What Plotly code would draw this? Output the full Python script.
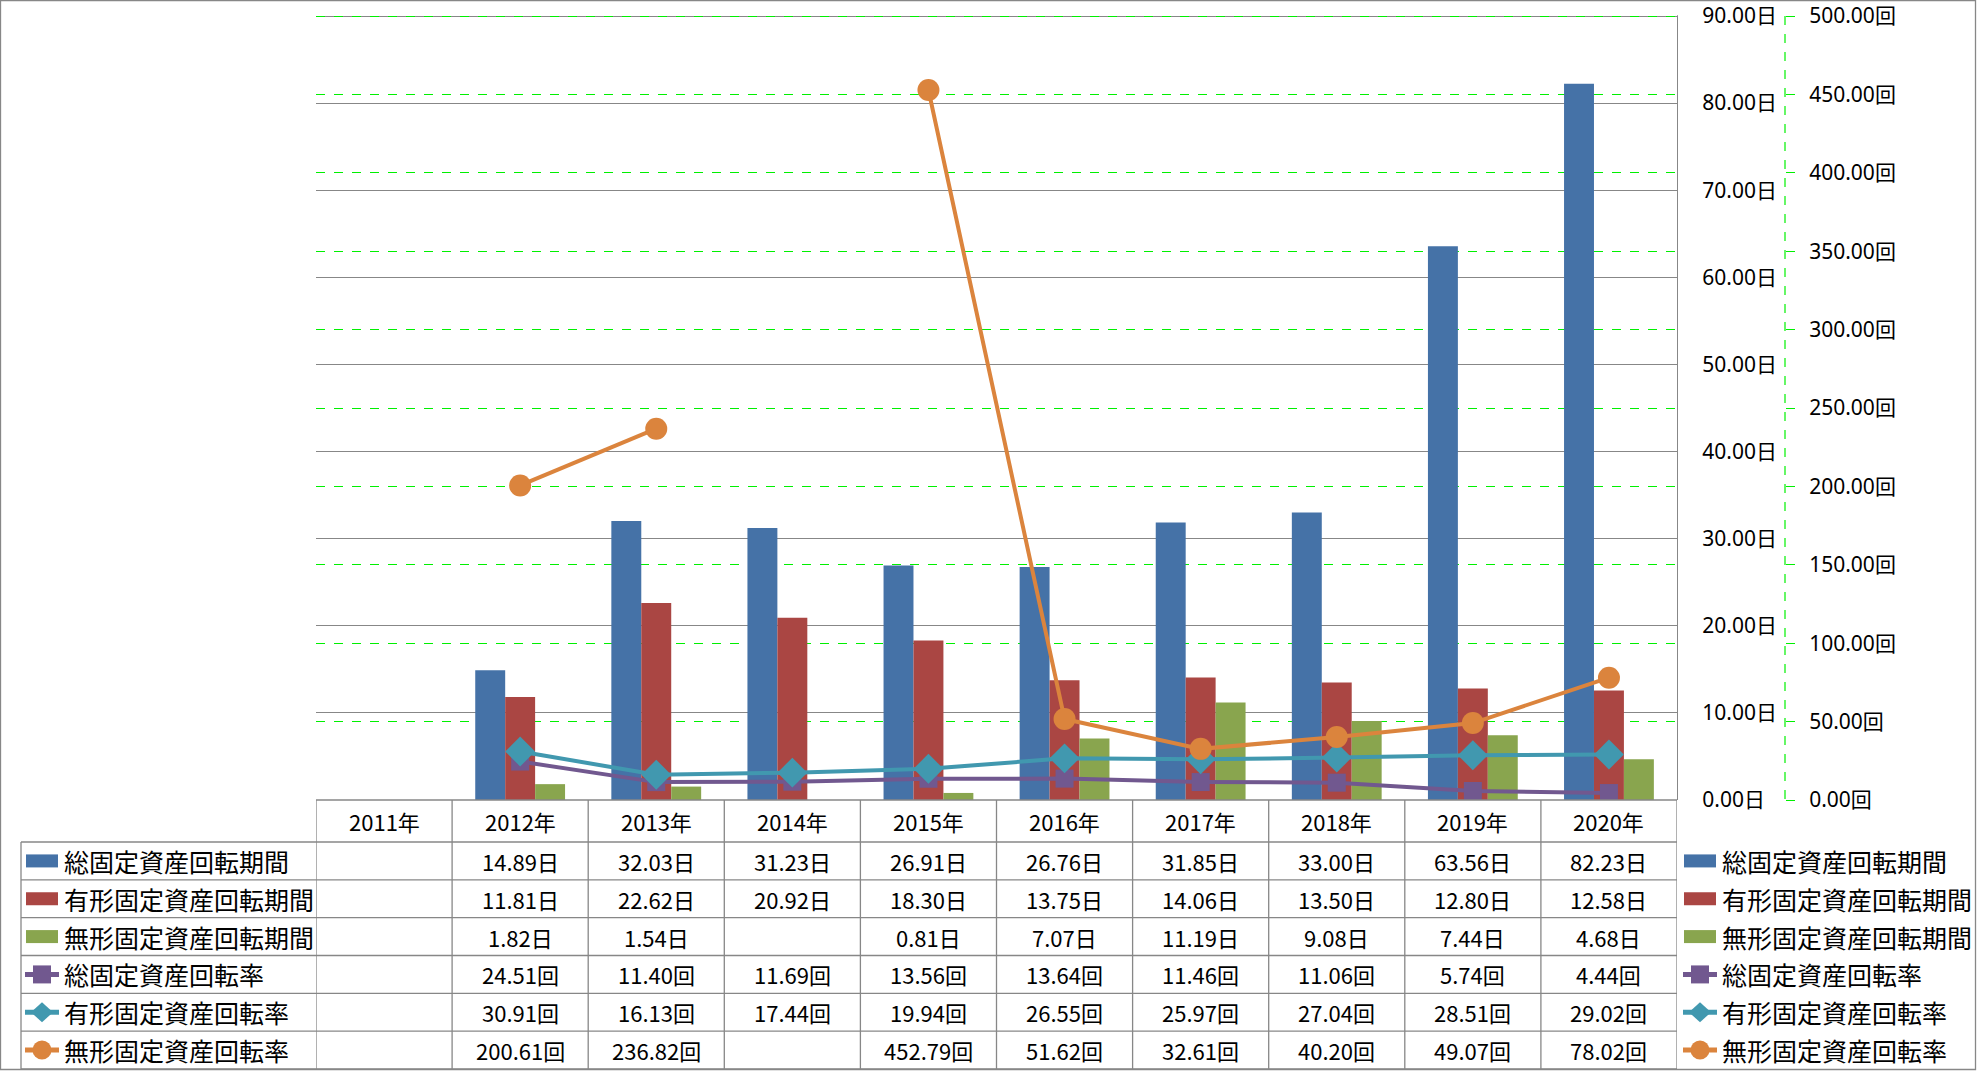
import plotly.graph_objects as go

# ---------------- data ----------------
years = ["2011年", "2012年", "2013年", "2014年", "2015年", "2016年", "2017年", "2018年", "2019年", "2020年"]
total_period = [None, 14.89, 32.03, 31.23, 26.91, 26.76, 31.85, 33.00, 63.56, 82.23]
tangible_period = [None, 11.81, 22.62, 20.92, 18.30, 13.75, 14.06, 13.50, 12.80, 12.58]
intangible_period = [None, 1.82, 1.54, None, 0.81, 7.07, 11.19, 9.08, 7.44, 4.68]
total_rate = [None, 24.51, 11.40, 11.69, 13.56, 13.64, 11.46, 11.06, 5.74, 4.44]
tangible_rate = [None, 30.91, 16.13, 17.44, 19.94, 26.55, 25.97, 27.04, 28.51, 29.02]
intangible_rate = [None, 200.61, 236.82, None, 452.79, 51.62, 32.61, 40.20, 49.07, 78.02]

series_names = ["総固定資産回転期間", "有形固定資産回転期間", "無形固定資産回転期間",
                "総固定資産回転率", "有形固定資産回転率", "無形固定資産回転率"]
series_values = [total_period, tangible_period, intangible_period,
                 total_rate, tangible_rate, intangible_rate]
series_units = ["日", "日", "日", "回", "回", "回"]
series_kinds = ["bar", "bar", "bar", "square", "diamond", "circle"]
colors = ["#4572A7", "#AA4643", "#89A54E", "#71588F", "#4198AF", "#DB843D"]

Y1_MAX, Y2_MAX = 90, 500

# ---------------- layout geometry (pixels) ----------------
W, H = 1977, 1071
PLOT_L, PLOT_R, PLOT_T, PLOT_B = 316, 1677, 16, 800
EXTRA = 0.6  # headroom so that the top tick stays inside the range
Y2_X = 1785
ROW_TOP = 842
ROW_H = (1069 - 842) / 6
TABLE_L = 21
GRID = "#878787"
LIME = "#00F000"
FONT = "Noto Sans CJK JP, Noto Sans, sans-serif"
TICK_FONT = "Noto Sans, Noto Sans CJK JP, sans-serif"


def px(x):
    return x / W


def py(y):
    return 1 - y / H


unit_px = (PLOT_B - PLOT_T) / Y1_MAX
top_px = PLOT_T - EXTRA * unit_px
y1_range = [0, Y1_MAX + EXTRA]
y2_range = [0, Y2_MAX * (Y1_MAX + EXTRA) / Y1_MAX]

fig = go.Figure()

for i in range(3):
    fig.add_trace(go.Bar(
        x=years, y=series_values[i], name=series_names[i],
        marker=dict(color=colors[i], line=dict(width=0)),
        yaxis="y", showlegend=False,
    ))

marker_cfg = {
    "square": dict(symbol="square", size=18),
    "diamond": dict(symbol="diamond", size=23),
    "circle": dict(symbol="circle", size=22),
}
for i in range(3, 6):
    m = marker_cfg[series_kinds[i]]
    fig.add_trace(go.Scatter(
        x=years, y=series_values[i], name=series_names[i], mode="lines+markers",
        line=dict(color=colors[i], width=4),
        marker=dict(color=colors[i], symbol=m["symbol"], size=m["size"]),
        connectgaps=False, yaxis="y2", showlegend=False,
    ))

shapes = []
annotations = []

# outer chart border
shapes.append(dict(type="rect", xref="paper", yref="paper", x0=px(0.5), x1=px(W - 1.5),
                   y0=py(0.5), y1=py(H - 1.5), line=dict(color=GRID, width=1.3)))

# y2 axis dashed line
shapes.append(dict(type="line", xref="paper", yref="paper", x0=px(Y2_X), x1=px(Y2_X),
                   y0=py(PLOT_T), y1=py(PLOT_B), line=dict(color=LIME, width=1.2, dash="dash")))

# table horizontal lines
shapes.append(dict(type="line", xref="x", yref="paper", x0=-0.5, x1=len(years) - 0.5,
                   y0=py(PLOT_B), y1=py(PLOT_B), line=dict(color=GRID, width=1.3)))
for r in range(7):
    yy = ROW_TOP + r * ROW_H
    shapes.append(dict(type="line", xref="paper", yref="paper", x0=px(TABLE_L), x1=px(PLOT_R),
                       y0=py(yy), y1=py(yy), line=dict(color=GRID, width=1.3)))
# table vertical lines
for c in range(len(years) + 1):
    shapes.append(dict(type="line", xref="x", yref="paper", x0=c - 0.5, x1=c - 0.5,
                       y0=py(PLOT_B), y1=py(1069), line=dict(color=GRID, width=1.3)))
shapes.append(dict(type="line", xref="paper", yref="paper", x0=px(TABLE_L), x1=px(TABLE_L),
                   y0=py(ROW_TOP), y1=py(1069), line=dict(color=GRID, width=1.3)))
# hide the small headroom of the right axis line above the top gridline
shapes.append(dict(type="line", xref="paper", yref="paper", x0=px(PLOT_R), x1=px(PLOT_R),
                   y0=py(top_px - 1), y1=py(PLOT_T - 0.7), line=dict(color="white", width=3)))

# header
for yr in years:
    annotations.append(dict(x=yr, xref="x", y=py((PLOT_B + ROW_TOP) / 2), yref="paper",
                            text=yr, showarrow=False, xanchor="center", yanchor="middle",
                            font=dict(size=22, color="black", family=FONT)))


def symbol_shapes(kind, color, x0, x1, yc):
    out = []
    xc = (x0 + x1) / 2
    if kind == "bar":
        out.append(dict(type="rect", xref="paper", yref="paper", x0=px(x0), x1=px(x1),
                        y0=py(yc + 6.5), y1=py(yc - 6.5), fillcolor=color, line=dict(width=0)))
        return out
    out.append(dict(type="line", xref="paper", yref="paper", x0=px(x0 - 1), x1=px(x1 + 1),
                    y0=py(yc), y1=py(yc), line=dict(color=color, width=5)))
    if kind == "square":
        out.append(dict(type="rect", xref="paper", yref="paper", x0=px(xc - 9), x1=px(xc + 9),
                        y0=py(yc + 9), y1=py(yc - 9), fillcolor=color, line=dict(width=0)))
    elif kind == "diamond":
        path = "M {} {} L {} {} L {} {} L {} {} Z".format(
            px(xc - 11), py(yc), px(xc), py(yc - 10), px(xc + 11), py(yc), px(xc), py(yc + 10))
        out.append(dict(type="path", xref="paper", yref="paper", path=path,
                        fillcolor=color, line=dict(width=0)))
    else:
        out.append(dict(type="circle", xref="paper", yref="paper", x0=px(xc - 9.5), x1=px(xc + 9.5),
                        y0=py(yc + 9.5), y1=py(yc - 9.5), fillcolor=color, line=dict(width=0)))
    return out


for r, (name, vals, unit, kind, col) in enumerate(zip(series_names, series_values, series_units,
                                                       series_kinds, colors)):
    yc = ROW_TOP + (r + 0.5) * ROW_H
    # row label
    shapes.extend(symbol_shapes(kind, col, 26, 58, yc))
    annotations.append(dict(x=px(62), xref="paper", y=py(yc), yref="paper", text=name,
                            showarrow=False, xanchor="left", yanchor="middle",
                            font=dict(size=25, color="black", family=FONT)))
    # cells
    for yr, v in zip(years, vals):
        if v is None:
            continue
        annotations.append(dict(x=yr, xref="x", y=py(yc), yref="paper",
                                text=f"{v:.2f}{unit}", showarrow=False,
                                xanchor="center", yanchor="middle",
                                font=dict(size=22, color="black", family=FONT)))
    # right legend
    shapes.extend(symbol_shapes(kind, col, 1684, 1716, yc))
    annotations.append(dict(x=px(1720), xref="paper", y=py(yc), yref="paper", text=name,
                            showarrow=False, xanchor="left", yanchor="middle",
                            font=dict(size=25, color="black", family=FONT)))

fig.update_layout(
    width=W, height=H,
    margin=dict(l=0, r=0, t=0, b=0, pad=0),
    template="none",
    paper_bgcolor="white", plot_bgcolor="white",
    font=dict(family=FONT, color="black", size=22),
    barmode="group", bargap=0.34, bargroupgap=0,
    showlegend=False,
    xaxis=dict(type="category", categoryorder="array", categoryarray=years,
               range=[-0.5, len(years) - 0.5], domain=[px(PLOT_L), px(PLOT_R)],
               showticklabels=False, showgrid=False, zeroline=False, showline=False,
               ticks="", automargin=False, fixedrange=True),
    yaxis=dict(range=y1_range, tick0=0, dtick=10,
               side="right", anchor="x",
               domain=[py(PLOT_B), py(top_px)],
               showgrid=True, gridcolor=GRID, gridwidth=1.3,
               showline=True, linecolor=GRID, linewidth=1.3,
               zeroline=False, ticks="", tickformat=".2f", ticksuffix="日",
               ticklabelstandoff=20, ticklabeloverflow="allow",
               tickfont=dict(size=21, color="black", family=TICK_FONT), automargin=False),
    yaxis2=dict(range=y2_range, tick0=0, dtick=50,
                side="right", overlaying="y", anchor="free",
                position=px(Y2_X),
                showgrid=True, gridcolor=LIME, gridwidth=1.2, griddash="dash",
                showline=False, zeroline=False,
                ticks="outside", ticklen=9, tickcolor=LIME, tickwidth=1.2,
                tickformat=".2f", ticksuffix="回", ticklabelstandoff=10,
                ticklabeloverflow="allow",
                tickfont=dict(size=21, color="black", family=TICK_FONT), automargin=False),
    shapes=shapes,
    annotations=annotations,
)

fig.write_html("out.html", config={"displayModeBar": False},
               post_script="document.body.style.margin='0';")
